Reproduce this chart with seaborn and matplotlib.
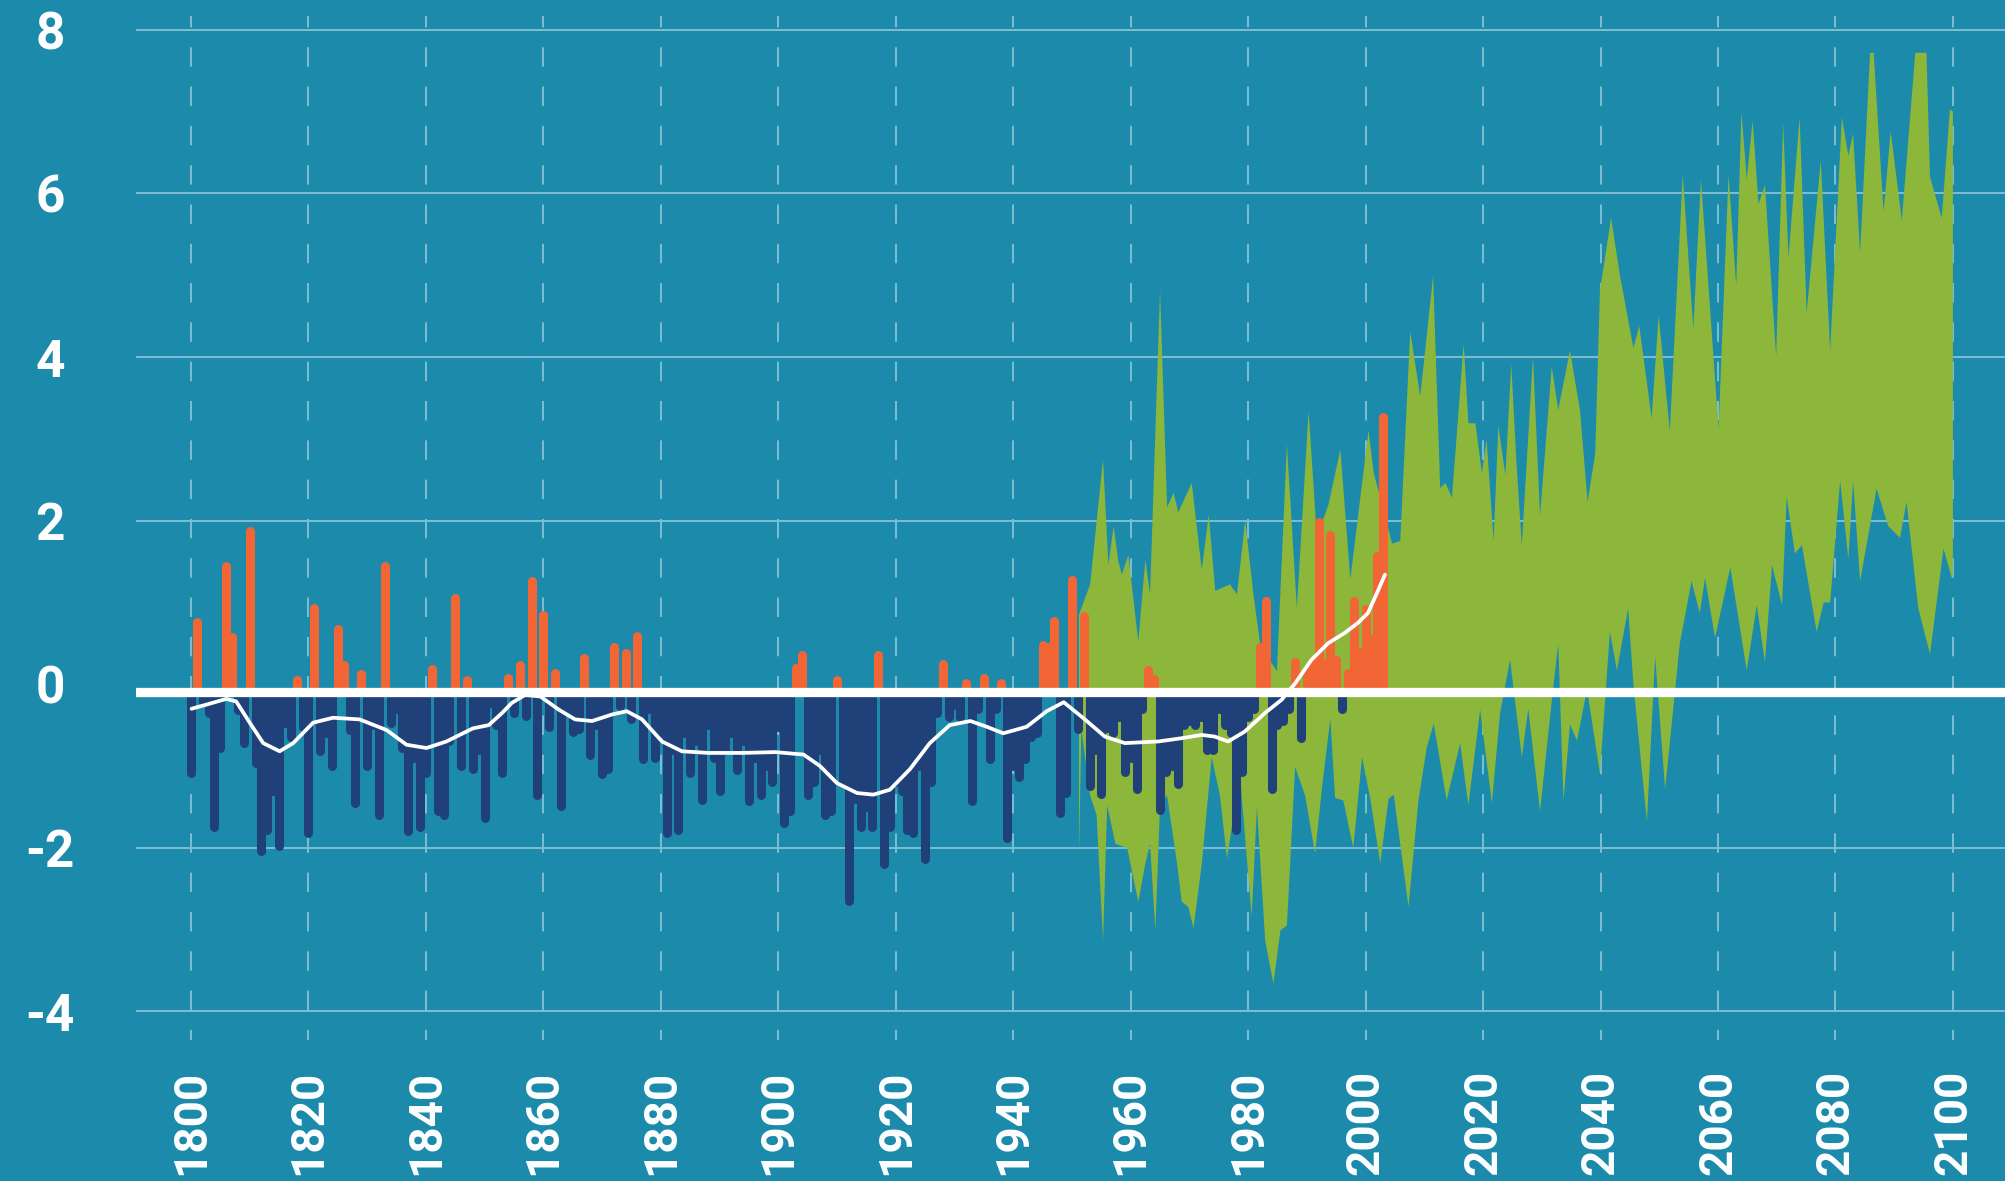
import numpy as np
import matplotlib
matplotlib.use("Agg")
import matplotlib.pyplot as plt
import seaborn as sns

# ---------------------------------------------------------------- data
# Annual temperature anomaly (°C), 1800-2003
years = np.arange(1800, 2004)
anomaly = [
    -1.08, 0.76, -0.22, -0.35, -1.74, -0.78, 1.44, 0.58, -0.31, -0.72,   # 1800s
    1.87, -0.96, -2.04, -1.78, -1.30, -1.98, -0.47, -0.65, 0.05, -0.52,  # 1810s
    -1.82, 0.93, -0.82, -0.60, -1.00, 0.68, 0.23, -0.56, -1.45, 0.12,    # 1820s
    -1.00, -0.50, -1.60, 1.44, -0.47, -0.30, -0.78, -1.80, -0.90, -1.74, # 1830s
    -1.08, 0.18, -1.55, -1.60, -0.70, 1.06, -1.00, 0.05, -1.04, -0.80,   # 1840s
    -1.63, -0.23, -0.50, -1.08, 0.08, -0.35, 0.24, -0.39, 1.26, -1.35,   # 1850s
    0.85, -0.52, 0.14, -1.49, -0.30, -0.59, -0.55, 0.32, -0.86, -0.50,   # 1860s
    -1.10, -1.04, 0.46, -0.27, 0.38, -0.43, 0.59, -0.92, -0.30, -0.90,   # 1870s
    -0.60, -1.82, -0.80, -1.78, -0.60, -1.08, -0.70, -1.41, -0.50, -0.90,# 1880s
    -1.31, -0.80, -0.60, -1.05, -0.70, -1.43, -0.90, -1.35, -1.00, -1.20,# 1890s
    -0.52, -1.70, -1.55, 0.20, 0.36, -1.35, -1.20, -0.80, -1.60, -1.55,  # 1900s
    0.05, -1.20, -2.65, -1.40, -1.75, -1.50, -1.74, 0.36, -2.20, -1.74,  # 1910s
    -1.20, -1.30, -1.78, -1.82, -1.00, -2.14, -1.20, -0.35, 0.25, -0.40, # 1920s
    -0.25, -0.40, 0.02, -1.43, -0.30, 0.08, -0.92, -0.30, 0.02, -1.88,   # 1930s
    -1.00, -1.14, -0.92, -0.65, -0.60, 0.48, 0.45, 0.77, -1.57, -1.33,   # 1940s
    1.28, -0.55, 0.83, -1.25, -0.80, -1.34, -0.54, -0.60, -0.40, -1.07,  # 1950s
    -0.90, -1.28, -0.30, 0.17, 0.06, -1.54, -1.07, -1.00, -1.22, -0.50,  # 1960s
    -0.45, -0.50, -0.40, -0.81, -0.80, -0.30, -0.50, -0.60, -1.78, -1.07,# 1970s
    -0.40, -0.30, 0.46, 1.02, -1.28, -0.50, -0.45, -0.30, 0.27, -0.66,   # 1980s
    0.15, 0.30, 1.98, 0.25, 1.83, 0.30, -0.30, 0.14, 1.02, 0.40,         # 1990s
    0.92, 0.55, 1.57, 3.27,                                              # 2000-2003
]

# Smoothed observed curve
smooth_years = [
    1800.1, 1802.6, 1806.0, 1807.7, 1810.0, 1812.3, 1815.1, 1817.4, 1820.8,
    1824.2, 1828.7, 1833.3, 1836.7, 1840.1, 1843.5, 1848.0, 1850.7, 1853.0,
    1854.6, 1856.9, 1859.5, 1862.6, 1865.4, 1868.3, 1871.7, 1874.2, 1876.8,
    1880.2, 1883.6, 1888.1, 1893.8, 1899.5, 1904.3, 1907.1, 1910.0, 1913.4,
    1916.2, 1919.0, 1922.4, 1925.8, 1929.2, 1932.7, 1935.5, 1938.3, 1942.3,
    1945.7, 1948.6, 1952.2, 1955.6, 1959.0, 1964.7, 1968.7, 1972.1, 1974.3,
    1976.6, 1979.4, 1982.9, 1985.7, 1988.0, 1990.8, 1993.6, 1996.5, 1998.7,
    2000.4, 2001.9, 2003.3,
]
smooth_values = [
    -0.30, -0.25, -0.18, -0.21, -0.47, -0.72, -0.82, -0.72, -0.47,
    -0.41, -0.43, -0.56, -0.74, -0.78, -0.70, -0.54, -0.50, -0.35,
    -0.23, -0.13, -0.15, -0.31, -0.43, -0.45, -0.37, -0.33, -0.43,
    -0.70, -0.82, -0.84, -0.84, -0.83, -0.86, -1.00, -1.21, -1.33,
    -1.35, -1.29, -1.04, -0.72, -0.50, -0.45, -0.52, -0.60, -0.52,
    -0.33, -0.22, -0.43, -0.64, -0.72, -0.70, -0.66, -0.62, -0.64,
    -0.70, -0.58, -0.35, -0.19, 0.01, 0.30, 0.50, 0.63, 0.75,
    0.87, 1.11, 1.34,
]

# Model range 1951-2100: upper envelope
proj_upper_years = [
    1951.2, 1951.7, 1953.1, 1955.3, 1956.2, 1957.1, 1957.9, 1958.5, 1959.6,
    1961.3, 1962.5, 1963.3, 1965.0, 1966.2, 1967.3, 1968.1, 1970.4, 1972.1,
    1973.3, 1974.4, 1976.9, 1978.1, 1979.5, 1980.9, 1982.1, 1984.9, 1986.6,
    1988.3, 1990.3, 1991.7, 1993.7, 1995.7, 1997.4, 2000.5, 2001.4, 2002.5,
    2004.5, 2005.9, 2007.6, 2009.3, 2011.5, 2012.7, 2013.6, 2014.7, 2016.7,
    2017.5, 2018.7, 2019.8, 2020.6, 2021.8, 2022.6, 2023.8, 2024.8, 2025.7,
    2026.6, 2028.5, 2029.7, 2031.7, 2032.8, 2034.8, 2036.5, 2037.8, 2039.1,
    2039.9, 2041.8, 2043.3, 2045.6, 2046.6, 2048.7, 2049.9, 2051.8, 2054.0,
    2055.8, 2057.1, 2060.1, 2061.8, 2063.1, 2064.0, 2064.9, 2065.9, 2066.9,
    2068.0, 2069.9, 2071.1, 2072.0, 2073.9, 2075.1, 2077.5, 2079.1, 2081.1,
    2082.2, 2083.0, 2084.2, 2085.9, 2086.5, 2088.2, 2089.4, 2091.3, 2093.6,
    2095.5, 2096.1, 2098.1, 2099.5, 2100.0,
]
proj_upper = [
    0.85, 0.95, 1.22, 2.75, 1.46, 1.93, 1.50, 1.34, 1.58,
    0.52, 1.52, 1.10, 4.81, 2.16, 2.34, 2.10, 2.46, 1.40,
    2.07, 1.14, 1.22, 1.10, 2.00, 1.10, 0.46, 0.16, 2.93,
    0.93, 3.34, 1.80, 2.20, 2.87, 1.28, 3.10, 2.58, 2.28,
    1.72, 1.75, 4.31, 3.52, 4.99, 2.40, 2.46, 2.28, 4.16,
    3.19, 3.19, 2.58, 2.99, 1.75, 3.16, 2.56, 3.91, 2.69,
    1.70, 4.00, 2.06, 3.88, 3.35, 4.08, 3.35, 2.23, 2.82,
    4.81, 5.70, 5.00, 4.11, 4.38, 3.25, 4.51, 3.09, 6.23,
    4.34, 6.17, 3.12, 6.23, 4.87, 6.99, 6.17, 6.89, 5.87,
    6.10, 4.01, 6.86, 5.21, 6.93, 4.54, 6.40, 4.08, 6.93,
    6.46, 6.73, 5.27, 7.72, 7.72, 5.77, 6.76, 5.67, 7.72,
    7.72, 6.20, 5.70, 7.03, 7.00,
]

# Model range 1951-2100: lower envelope
proj_lower_years = [
    1951.2, 1951.6, 1953.1, 1954.2, 1955.3, 1956.0, 1957.4, 1959.4, 1961.3,
    1962.5, 1963.3, 1964.2, 1965.0, 1966.2, 1967.9, 1968.7, 1969.8, 1970.7,
    1972.1, 1973.8, 1975.2, 1976.4, 1978.6, 1980.6, 1981.5, 1982.9, 1984.3,
    1985.5, 1986.6, 1988.0, 1989.7, 1991.4, 1992.6, 1994.0, 1994.8, 1996.2,
    1997.9, 1999.4, 2000.8, 2002.5, 2003.9, 2004.8, 2007.3, 2009.0, 2010.4,
    2011.6, 2013.8, 2016.1, 2017.5, 2019.5, 2021.5, 2022.9, 2024.6, 2026.6,
    2027.7, 2029.7, 2031.7, 2032.8, 2033.7, 2034.8, 2036.0, 2037.7, 2039.9,
    2041.6, 2042.8, 2044.7, 2045.6, 2047.9, 2049.3, 2051.0, 2053.5, 2055.5,
    2056.9, 2057.8, 2059.5, 2062.1, 2064.9, 2066.6, 2068.0, 2069.2, 2070.9,
    2071.7, 2073.1, 2074.3, 2076.8, 2078.0, 2079.1, 2080.8, 2082.2, 2083.0,
    2084.2, 2087.0, 2089.0, 2091.0, 2092.1, 2094.1, 2096.1, 2098.4, 2099.8,
    2100.0,
]
proj_lower = [
    -2.10, -0.54, -1.36, -1.60, -3.13, -1.48, -1.95, -2.00, -2.66,
    -2.19, -1.95, -3.01, -1.48, -1.36, -2.19, -2.66, -2.72, -2.98,
    -2.20, -0.89, -1.36, -2.13, -1.10, -2.84, -1.50, -3.13, -3.66,
    -3.01, -2.95, -1.01, -1.36, -2.07, -1.25, -0.42, -1.39, -1.42,
    -2.00, -0.89, -1.40, -2.19, -1.40, -1.35, -2.72, -1.42, -0.78,
    -0.48, -1.42, -0.72, -1.48, -0.31, -1.45, -0.35, 0.30, -0.89,
    -0.30, -1.55, -0.20, 0.50, -1.42, -0.49, -0.69, -0.06, -1.09,
    0.64, 0.17, 0.93, 0.00, -1.68, 0.34, -1.28, 0.50, 1.26,
    0.87, 1.30, 0.57, 1.43, 0.17, 0.97, 0.27, 1.46, 0.97,
    2.29, 1.60, 1.70, 0.64, 1.00, 1.00, 2.49, 1.53, 2.49,
    1.26, 2.39, 1.93, 1.79, 2.23, 0.93, 0.37, 1.66, 1.30,
    1.35,
]

x_ticks = list(range(1800, 2101, 20))
y_ticks = [-4, -2, 0, 2, 4, 6, 8]
y_tick_labels = ["-4", "-2", "0", "2", "4", "6", "8"]

# ---------------------------------------------------------------- style
BG = "#1c8bab"
GRID = "#7fbed2"
WARM = "#f26535"
COLD = "#1f4079"
MODEL = "#8db73a"
BASELINE = -0.1

sns.set_theme(style="dark", rc={
    "axes.facecolor": BG,
    "figure.facecolor": BG,
    "axes.unicode_minus": False,
    "lines.scale_dashes": False,
})
plt.rcParams["font.family"] = ["Roboto", "DejaVu Sans"]

W, H = 2005, 1181
fig = plt.figure(figsize=(W / 100, H / 100), dpi=100)
left_px, top_px, bottom_px = 136, 16, 1040
ax = fig.add_axes([left_px / W, 1 - bottom_px / H,
                   1 - left_px / W, (bottom_px - top_px) / H])
ax.set_facecolor(BG)
for s in ax.spines.values():
    s.set_visible(False)
ax.grid(False)

ax.set_xlim(1790.64, 2108.87)
ax.set_ylim(-4.35, 8.17)

# grid: solid horizontals (the zero line replaces the one at 0),
# dashed verticals running top to bottom
for v in y_ticks:
    if v != 0:
        ax.axhline(v, color=GRID, lw=1.4, zorder=0)
ytop, ybot = ax.get_ylim()[1], ax.get_ylim()[0]
for xv in x_ticks:
    ax.plot([xv, xv], [ytop, ybot], color=GRID, lw=1.4,
            ls=(5.8, (14.0, 14.3)), zorder=0, dash_capstyle="butt")

# model range
poly_x = list(proj_upper_years) + list(proj_lower_years[::-1])
poly_y = list(proj_upper) + list(proj_lower[::-1])
ax.fill(poly_x, poly_y, color=MODEL, lw=0, zorder=1)

# annual bars
vals = np.asarray(anomaly)
bar_colors = [WARM if v > 0 else COLD for v in vals]
ax.vlines(years, BASELINE, vals, colors=bar_colors, lw=6.5,
          capstyle="round", zorder=2)

# zero line
ax.axhline(BASELINE, color="white", lw=6.7, solid_capstyle="round", zorder=3)

# smoothed curve
sns.lineplot(x=smooth_years, y=smooth_values, ax=ax, color="white",
             lw=2.7, sort=False, estimator=None, zorder=4)

# ticks
ax.set_xticks(x_ticks)
ax.set_xticklabels([str(t) for t in x_ticks], rotation=90, color="white",
                   fontsize=33, fontweight="bold", ha="center", va="top")
ax.set_yticks(y_ticks)
ax.set_yticklabels(y_tick_labels, color="white", fontsize=37,
                   fontweight="bold", ha="center")
ax.tick_params(axis="x", length=0, pad=21.6)
ax.tick_params(axis="y", length=0, pad=61.9)
ax.set_xlabel("")
ax.set_ylabel("")

fig.savefig("out.png", dpi=100, facecolor=BG)
